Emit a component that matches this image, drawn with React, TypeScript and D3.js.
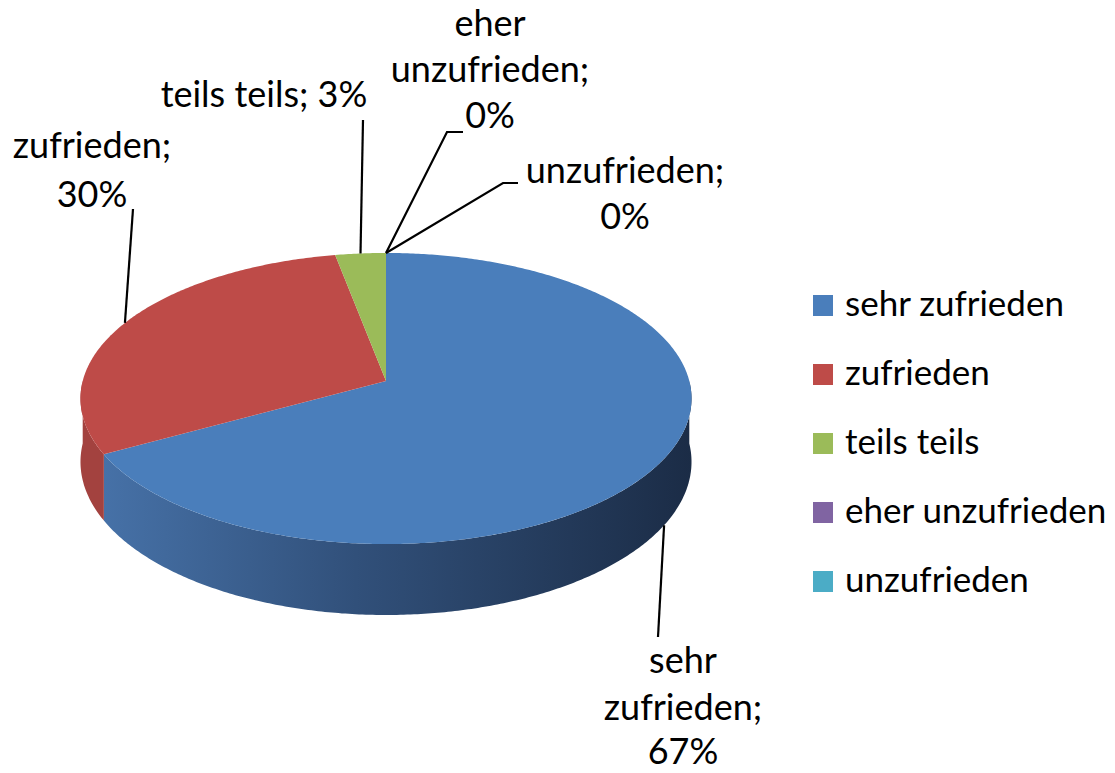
import * as d3 from 'd3';

const categories = ['sehr zufrieden', 'zufrieden', 'teils teils', 'eher unzufrieden', 'unzufrieden'];
const values = [67, 30, 3, 0, 0];
const colors = ['#4a7ebb', '#be4b48', '#9bbb59', '#8064a2', '#4bacc6'];
const sideColors = ['url(#blueSide)', '#a3423f', '#7f9c46', '#6a5288', '#3a90a8'];

// words per line of each data label
const labelWrap = [[1, 1, 1], [1, 1], [3], [1, 1, 1], [1, 1]];

const W = 1115;
const H = 773;
const FONT = 'Lato, "Open Sans", sans-serif';

// perspective projection of the pie's top circle
const cx = 386;
const A = 303.3;
const B = 381;
const C = 97.6;
const K = -0.1203;
const DEPTH = 62.4;

function proj(a: number, drop = 0): [number, number] {
  const u = Math.sin(a);
  const v = -Math.cos(a);
  const w = 1 + K * v;
  return [cx + (A * u) / w, (B + C * v + drop) / w];
}

function arcPoints(a0: number, a1: number, drop = 0) {
  const n = Math.max(2, Math.ceil(Math.abs(a1 - a0) / 0.01));
  return d3.range(n + 1).map((i) => proj(a0 + ((a1 - a0) * i) / n, drop));
}

const line = d3.line();

// label placement: end of leader line, text centre, baselines
const labelLayout = [
  { path: [[658, 637]], x: 683, ys: [673, 720, 764], drop: DEPTH },
  { path: [[133, 209]], x: 92, ys: [158, 207], drop: 0 },
  { path: [[363, 120]], x: 264, ys: [107], drop: 0 },
  { path: [[447, 132], [463, 132]], x: 490, ys: [36, 82, 128], drop: 0 },
  { path: [[503, 183], [518, 183]], x: 625, ys: [183, 229], drop: 0 },
];

export default function App() {
  const pie = d3
    .pie<number>()
    .sort(null)
    .value((d) => d)
    .startAngle(0)
    .endAngle(2 * Math.PI);
  const arcs = pie(values);

  const front0 = Math.PI / 2;
  const front1 = (3 * Math.PI) / 2;

  const sides = arcs
    .map((a, i) => {
      const s = Math.max(a.startAngle, front0);
      const e = Math.min(a.endAngle, front1);
      if (e <= s) return null;
      const pts = [...arcPoints(s, e), ...arcPoints(e, s, DEPTH)];
      return <path key={'s' + i} d={line(pts as [number, number][]) + 'Z'} fill={sideColors[i]} />;
    })
    .filter(Boolean);

  const apex: [number, number] = [cx, B];
  const tops = arcs.map((a, i) => {
    if (a.endAngle - a.startAngle <= 0) return null;
    const pts = [apex, ...arcPoints(a.startAngle, a.endAngle)];
    return <path key={'t' + i} d={line(pts as [number, number][]) + 'Z'} fill={colors[i]} />;
  });

  const labels = arcs.map((a, i) => {
    const lay = labelLayout[i];
    const mid = (a.startAngle + a.endAngle) / 2;
    const anchor = proj(mid, lay.drop);
    const words = `${categories[i]}; ${values[i]}%`.split(' ');
    let k = 0;
    const lines = labelWrap[i].map((n) => {
      const t = words.slice(k, k + n).join(' ');
      k += n;
      return t;
    });
    return (
      <g key={'l' + i}>
        <path
          d={line([anchor, ...(lay.path as [number, number][])]) || ''}
          fill="none"
          stroke="#000"
          strokeWidth={2.2}
        />
        {lines.map((t, j) => (
          <text key={j} x={lay.x} y={lay.ys[j]} textAnchor="middle" fontFamily={FONT} fontSize={36} fill="#000">
            {t}
          </text>
        ))}
      </g>
    );
  });

  const legendY = d3.scalePoint<string>().domain(categories).range([305.5, 581.5]);

  return (
    <svg width={W} height={H} style={{ position: 'absolute', left: 0, top: 0, background: '#fff' }}>
      <defs>
        <linearGradient id="blueSide" gradientUnits="userSpaceOnUse" x1={81} x2={692} y1={0} y2={0}>
          <stop offset="0" stopColor="#4874ab" />
          <stop offset="0.45" stopColor="#31507a" />
          <stop offset="1" stopColor="#1b2c46" />
        </linearGradient>
      </defs>
      <g>{sides}</g>
      <g>{tops}</g>
      {labels}
      <g>
        {categories.map((c, i) => (
          <g key={c} transform={`translate(813,${legendY(c)})`}>
            <rect x={0} y={-10.5} width={20} height={21} fill={colors[i]} />
            <text x={32} y={10} fontFamily={FONT} fontSize={35} fill="#000">
              {c}
            </text>
          </g>
        ))}
      </g>
    </svg>
  );
}
